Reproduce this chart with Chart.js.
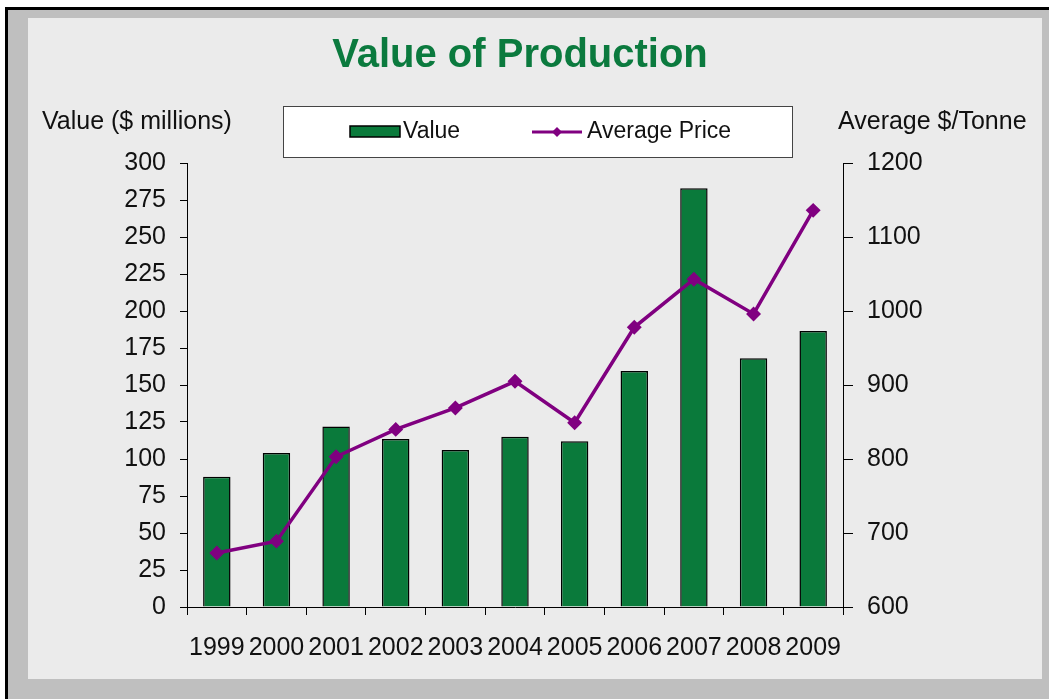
<!DOCTYPE html>
<html>
<head>
<meta charset="utf-8">
<script src="https://cdn.jsdelivr.net/npm/chart.js@4.4.1/dist/chart.umd.min.js"></script>
<style>
  html, body { margin: 0; padding: 0; background: #ffffff; }
  #wrap { width: 1049px; height: 699px; position: relative; }
</style>
</head>
<body>
<div id="wrap"><canvas id="c" width="1049" height="699"></canvas></div>
<script>
// ---- Data ----
const categories = ['1999', '2000', '2001', '2002', '2003', '2004', '2005', '2006', '2007', '2008', '2009'];
const valueMillions = [88, 104, 122, 113.5, 106, 115, 112, 159.5, 283, 168, 186.5];
const averagePrice = [673, 689, 803, 840, 869, 905, 849, 978, 1043, 996, 1136];
const leftAxisRange = [0, 300];
const leftAxisStep = 25;
const rightAxisRange = [600, 1200];
const rightAxisStep = 100;
const chartTitle = 'Value of Production';
const leftAxisTitle = 'Value ($ millions)';
const rightAxisTitle = 'Average $/Tonne';
const seriesNames = ['Value', 'Average Price'];

// ---- Styles ----
const FONT = '"Liberation Sans", Arial, Helvetica, sans-serif';
const GREEN = '#0a7a3b';
const PURPLE = '#800080';
const TITLE_GREEN = '#0b7a3e';

const framePlugin = {
  id: 'framePlugin',
  beforeDraw(chart) {
    const ctx = chart.ctx;
    const W = chart.width, H = chart.height;
    ctx.save();
    ctx.fillStyle = '#ffffff';
    ctx.fillRect(0, 0, W, H);
    ctx.fillStyle = '#bfbfbf';
    ctx.fillRect(5, 7, W - 5, H - 7);
    ctx.fillStyle = '#000000';
    ctx.fillRect(5, 7, 3, H - 7);
    ctx.fillRect(5, 7, W - 5, 3);
    ctx.fillStyle = '#ebebeb';
    ctx.fillRect(28, 18, 1042 - 28, 679 - 18);

    // axis titles, placed above the axes
    const yR = chart.scales.y1;
    ctx.fillStyle = '#111111';
    ctx.font = '25px ' + FONT;
    ctx.textBaseline = 'middle';
    ctx.textAlign = 'left';
    ctx.fillText(leftAxisTitle, 42, 122);
    ctx.fillText(rightAxisTitle, yR.left - 5, 122);

    // legend box
    const bx = 283, by = 106, bw = 509, bh = 51;
    ctx.fillStyle = '#ffffff';
    ctx.fillRect(bx, by, bw, bh);
    ctx.strokeStyle = '#444444';
    ctx.lineWidth = 1;
    ctx.strokeRect(bx + 0.5, by + 0.5, bw, bh);
    const cy = by + 26;
    // Value item
    ctx.fillStyle = GREEN;
    ctx.fillRect(350, cy - 6, 50, 11);
    ctx.strokeStyle = '#000000';
    ctx.lineWidth = 1.5;
    ctx.strokeRect(350, cy - 6, 50, 11);
    ctx.fillStyle = '#111111';
    ctx.font = '23px ' + FONT;
    ctx.textAlign = 'left';
    ctx.textBaseline = 'middle';
    ctx.fillText(seriesNames[0], 403, cy);
    // Average Price item
    ctx.strokeStyle = PURPLE;
    ctx.lineWidth = 3;
    ctx.beginPath();
    ctx.moveTo(532, cy);
    ctx.lineTo(582, cy);
    ctx.stroke();
    ctx.fillStyle = PURPLE;
    ctx.beginPath();
    ctx.moveTo(557, cy - 5);
    ctx.lineTo(562, cy);
    ctx.lineTo(557, cy + 5);
    ctx.lineTo(552, cy);
    ctx.closePath();
    ctx.fill();
    ctx.fillStyle = '#111111';
    ctx.fillText(seriesNames[1], 587, cy);
    ctx.restore();
  }
};

const tickFont = { family: FONT, size: 25 };
const plainNumber = (v) => String(v);

new Chart(document.getElementById('c'), {
  type: 'bar',
  data: {
    labels: categories,
    datasets: [
      {
        type: 'line',
        label: seriesNames[1],
        data: averagePrice,
        yAxisID: 'y1',
        borderColor: PURPLE,
        backgroundColor: PURPLE,
        borderWidth: 3.5,
        pointStyle: 'rectRot',
        pointRadius: 5,
        pointBackgroundColor: PURPLE,
        pointBorderColor: PURPLE,
        tension: 0,
        order: 0
      },
      {
        type: 'bar',
        label: seriesNames[0],
        data: valueMillions,
        yAxisID: 'y',
        backgroundColor: GREEN,
        borderColor: '#000000',
        borderWidth: 1.5,
        barPercentage: 0.46,
        categoryPercentage: 1,
        order: 1
      }
    ]
  },
  options: {
    responsive: false,
    animation: false,
    devicePixelRatio: 1,
    layout: { padding: { top: 0, left: 0, right: 9, bottom: 0 } },
    plugins: {
      legend: { display: false },
      tooltip: { enabled: false },
      title: {
        display: true,
        text: chartTitle,
        color: TITLE_GREEN,
        font: { family: FONT, size: 40, weight: 'bold' },
        padding: { top: 32, bottom: 83 }
      }
    },
    scales: {
      x: {
        grid: { display: true, drawOnChartArea: false, offset: true, tickLength: 8, color: '#000000', lineWidth: 1 },
        border: { display: true, color: '#000000', width: 1 },
        ticks: { font: tickFont, color: '#111111', maxRotation: 0, minRotation: 0, autoSkip: false, padding: 18 },
        afterFit(scale) { scale.height = 699 - 607; }
      },
      y: {
        position: 'left',
        min: leftAxisRange[0],
        max: leftAxisRange[1],
        ticks: { stepSize: leftAxisStep, font: tickFont, color: '#111111', padding: 14, callback: plainNumber },
        grid: { display: true, drawOnChartArea: false, tickLength: 7, color: '#000000' },
        border: { display: true, color: '#000000', width: 1 },
        afterFit(scale) { scale.width = 187; }
      },
      y1: {
        position: 'right',
        min: rightAxisRange[0],
        max: rightAxisRange[1],
        ticks: { stepSize: rightAxisStep, font: tickFont, color: '#111111', padding: 14, callback: plainNumber },
        grid: { display: true, drawOnChartArea: false, tickLength: 10, color: '#000000' },
        border: { display: true, color: '#000000', width: 1 },
        afterFit(scale) { scale.width = 1040 - 843; }
      }
    }
  },
  plugins: [framePlugin]
});
</script>
</body>
</html>
